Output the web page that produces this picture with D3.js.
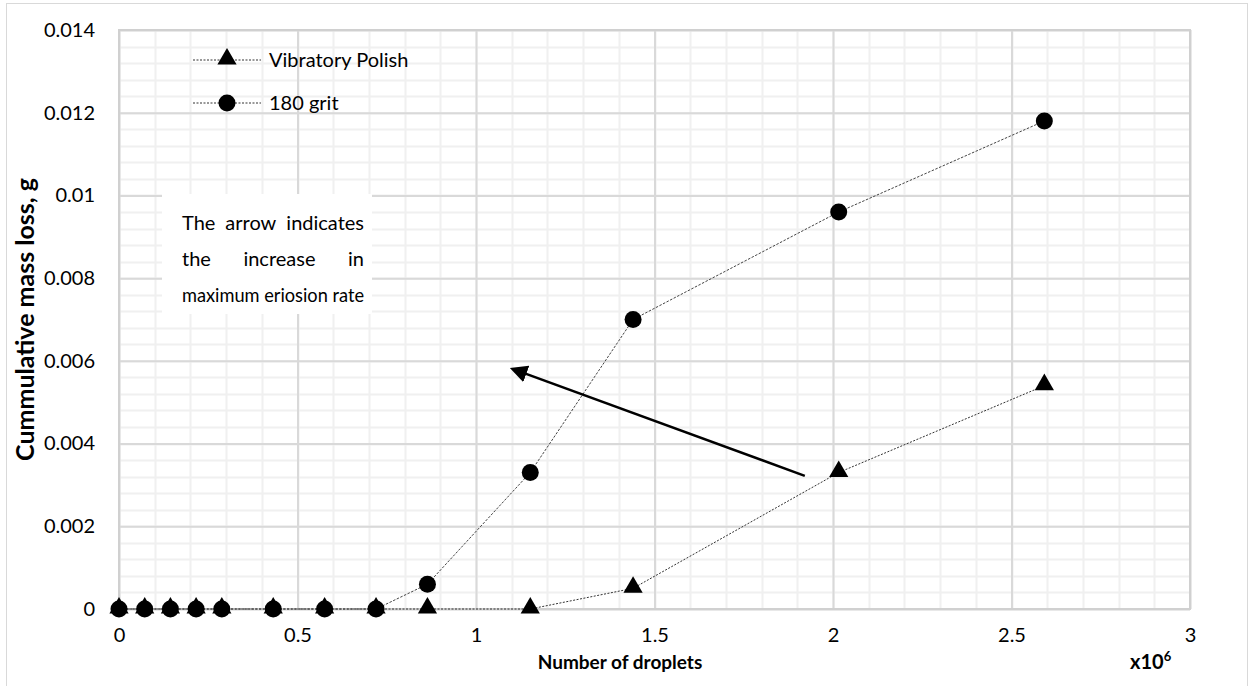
<!DOCTYPE html>
<html>
<head>
<meta charset="utf-8">
<script src="https://cdn.jsdelivr.net/npm/d3@7"></script>
<style>
  html, body { margin: 0; padding: 0; background: #fff; }
  svg { display: block; font-family: Lato, "Open Sans", sans-serif; }
</style>
</head>
<body>
<svg id="chart" width="1251" height="686"></svg>
<script>
// Number of droplets (×10^6) at each measurement
const droplets = [0, 0.072, 0.144, 0.216, 0.288, 0.432, 0.576, 0.72, 0.864, 1.152, 1.44, 2.016, 2.592];
// Cumulative mass loss (g)
const vibratoryPolish = [0, 0, 0, 0, 0, 0, 0, 0, 0, 0, 0.0005, 0.0033, 0.0054];
const grit180 = [0, 0, 0, 0, 0, 0, 0, 0, 0.0006, 0.0033, 0.0070, 0.0096, 0.0118];
const seriesNames = ["Vibratory Polish", "180 grit"];
const xTicks = [0, 0.5, 1, 1.5, 2, 2.5, 3];
const yTicks = [0, 0.002, 0.004, 0.006, 0.008, 0.01, 0.012, 0.014];
const noteLines = ["The arrow indicates", "the increase in", "maximum eriosion rate"];
// Arrow annotation, tail and head in data units
const arrowTail = [1.921, 0.00322];
const arrowHead = [1.104, 0.0058];

const svg = d3.select("#chart");
const W = 1251, H = 686;
const plot = { left: 119, right: 1190, top: 30, bottom: 609 };

const x = d3.scaleLinear().domain([0, 3]).range([plot.left, plot.right]);
const y = d3.scaleLinear().domain([0, 0.014]).range([plot.bottom, plot.top]);

// Outer chart frame
svg.append("rect").attr("x", 6.5).attr("y", 3.5).attr("width", W - 10).attr("height", H)
  .attr("fill", "#fff").attr("stroke", "#d9d9d9").attr("stroke-width", 1);

// Minor gridlines
const g = svg.append("g");
g.selectAll("line.vminor").data(d3.range(0, 3.0001, 0.1)).join("line")
  .attr("x1", d => Math.round(x(d)) + 0.5).attr("x2", d => Math.round(x(d)) + 0.5)
  .attr("y1", plot.top).attr("y2", plot.bottom)
  .attr("stroke", "#f0f0f0").attr("stroke-width", 2);
g.selectAll("line.hminor").data(d3.range(0, 0.01400001, 0.0004)).join("line")
  .attr("y1", d => Math.round(y(d)) + 0.5).attr("y2", d => Math.round(y(d)) + 0.5)
  .attr("x1", plot.left).attr("x2", plot.right)
  .attr("stroke", "#f0f0f0").attr("stroke-width", 2);

// Major gridlines and tick labels
const xAxis = d3.axisBottom(x).tickValues(xTicks).tickSize(-(plot.bottom - plot.top)).tickFormat(d3.format("~g")).tickPadding(16);
const yAxis = d3.axisLeft(y).tickValues(yTicks).tickSize(-(plot.right - plot.left)).tickFormat(d => d === 0 ? "0" : d3.format("~g")(d)).tickPadding(24);

const gx = svg.append("g").attr("transform", `translate(0,${plot.bottom})`).call(xAxis);
const gy = svg.append("g").attr("transform", `translate(${plot.left},0)`).call(yAxis);
[gx, gy].forEach(a => {
  a.select(".domain").remove();
  a.selectAll(".tick line").attr("stroke", "#d9d9d9").attr("stroke-width", 2);
  a.selectAll(".tick text").attr("fill", "#000").style("font-size", "20px").style("font-family", "Lato, sans-serif");
});
gx.selectAll(".tick text").attr("dy", "0.85em");

// Plot area border
svg.append("rect").attr("x", plot.left).attr("y", plot.top)
  .attr("width", plot.right - plot.left).attr("height", plot.bottom - plot.top)
  .attr("fill", "none").attr("stroke", "#d0d0d0").attr("stroke-width", 2);

// Series
const line = d3.line().x(d => x(d[0])).y(d => y(d[1]));
const vpData = droplets.map((d, i) => [d, vibratoryPolish[i]]);
const gritData = droplets.map((d, i) => [d, grit180[i]]);

const triangle = d3.symbol().type(d3.symbolTriangle).size(160);

svg.append("path").datum(vpData).attr("d", line)
  .attr("fill", "none").attr("stroke", "#333").attr("stroke-width", 1).attr("stroke-dasharray", "2,1.5");
svg.append("path").datum(gritData).attr("d", line)
  .attr("fill", "none").attr("stroke", "#444").attr("stroke-width", 1).attr("stroke-dasharray", "2.5,1.5");

svg.append("g").selectAll("path").data(vpData).join("path")
  .attr("d", triangle)
  .attr("transform", d => `translate(${x(d[0])},${y(d[1]) - 1})`)
  .attr("fill", "#000");
svg.append("g").selectAll("circle").data(gritData).join("circle")
  .attr("cx", d => x(d[0])).attr("cy", d => y(d[1])).attr("r", 8.5)
  .attr("fill", "#000");

// Legend
const legend = svg.append("g");
seriesNames.forEach((name, i) => {
  const ly = 60 + i * 43;
  legend.append("line").attr("x1", 193).attr("x2", 261).attr("y1", ly).attr("y2", ly)
    .attr("stroke", "#333").attr("stroke-width", 1).attr("stroke-dasharray", "2,1.5");
  if (i === 0) {
    legend.append("path").attr("d", triangle).attr("transform", `translate(227,${ly - 1})`).attr("fill", "#000");
  } else {
    legend.append("circle").attr("cx", 227).attr("cy", ly).attr("r", 8.5).attr("fill", "#000");
  }
  legend.append("text").attr("x", 269).attr("y", ly).attr("dy", "0.35em")
    .style("font-size", "20px").text(name);
});

// Note box with justified text
svg.append("rect").attr("x", 162).attr("y", 194).attr("width", 210).attr("height", 120).attr("fill", "#fff");
const note = svg.append("g").style("font-size", "20px");
const textLeft = 182, textRight = 364;
noteLines.forEach((ln, i) => {
  const by = 230 + i * 36;
  if (i === noteLines.length - 1) {
    // Last line: left aligned, fitted to the box width
    const t = note.append("text").attr("x", textLeft).attr("y", by).text(ln);
    const w = t.node().getComputedTextLength();
    if (w > textRight - textLeft) t.attr("textLength", textRight - textLeft).attr("lengthAdjust", "spacingAndGlyphs");
    return;
  }
  const words = ln.split(" ");
  const nodes = words.map(w => note.append("text").attr("y", by).text(w));
  const widths = nodes.map(n => n.node().getComputedTextLength());
  const gap = (textRight - textLeft - d3.sum(widths)) / (words.length - 1);
  let cx = textLeft;
  nodes.forEach((n, j) => { n.attr("x", cx); cx += widths[j] + gap; });
});

// Arrow annotation
svg.append("defs").append("marker")
  .attr("id", "head").attr("viewBox", "0 0 10 10").attr("refX", 8).attr("refY", 5)
  .attr("markerWidth", 7).attr("markerHeight", 7).attr("markerUnits", "strokeWidth")
  .attr("orient", "auto")
  .append("path").attr("d", "M0,0 L10,5 L0,10 Z").attr("fill", "#000");
svg.append("line")
  .attr("x1", x(arrowTail[0])).attr("y1", y(arrowTail[1]))
  .attr("x2", x(arrowHead[0])).attr("y2", y(arrowHead[1]))
  .attr("stroke", "#000").attr("stroke-width", 2.5).attr("marker-end", "url(#head)");

// Axis titles
svg.append("text").attr("x", 620).attr("y", 669).attr("text-anchor", "middle")
  .style("font-size", "19px").style("font-weight", "bold").text("Number of droplets");
const unit = svg.append("text").attr("x", 1130).attr("y", 669)
  .style("font-size", "20px").style("font-weight", "bold");
unit.append("tspan").text("x10");
unit.append("tspan").attr("dy", -8).style("font-size", "13px").text("6");
svg.append("text").attr("transform", `translate(34,${(plot.top + plot.bottom) / 2}) rotate(-90)`)
  .attr("text-anchor", "middle")
  .style("font-size", "25px").style("font-weight", "bold").text("Cummulative mass loss, g");
</script>
</body>
</html>
